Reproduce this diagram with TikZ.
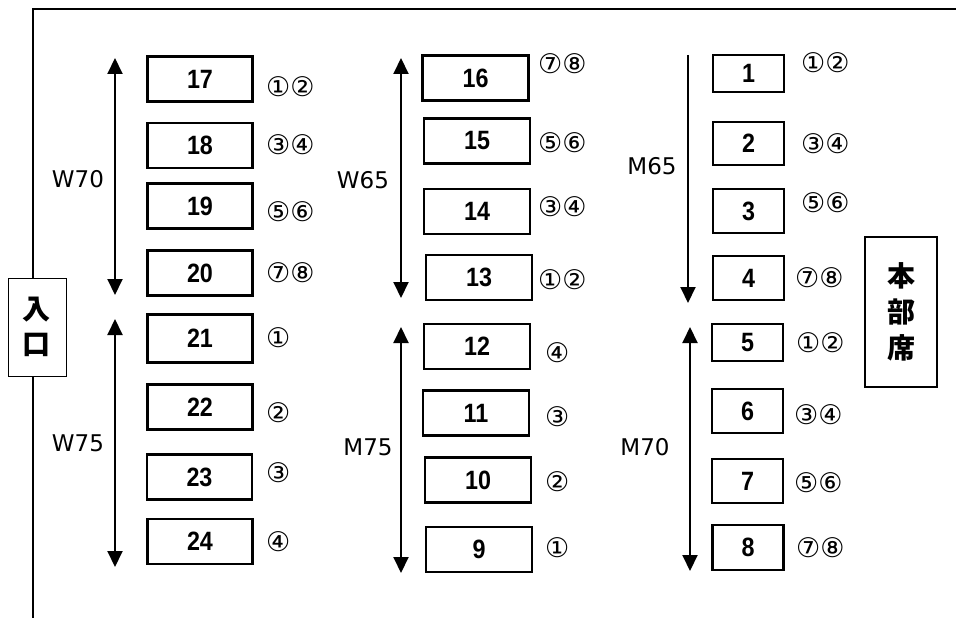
\documentclass[tikz,border=0pt]{standalone}
\usepackage{fontspec}
\setmainfont{Liberation Sans}
\newfontfamily\seatfont[FakeStretch=0.88]{Liberation Sans}
\newfontfamily\jpfont{Noto Sans CJK JP}
\newfontfamily\lblfont{DejaVu Sans}
\usetikzlibrary{arrows.meta, positioning}

\begin{document}
\begin{tikzpicture}[x=1pt, y=-1pt,
  seat/.style={draw, line width=2.2pt, inner sep=0pt, minimum height=45pt, font=\seatfont\bfseries\fontsize{26.5}{28}\selectfont},
  seatW/.style={seat, minimum width=105pt},
  seatM/.style={seat, minimum width=106pt},
  seatR/.style={seat, minimum width=71pt},
  pair/.style={anchor=west, inner sep=0pt, font=\lblfont\fontsize{27}{28}\selectfont},
  spanarrow/.style={line width=2pt, {Triangle[width=15pt,length=16pt]}-{Triangle[width=15pt,length=16pt]}},
  downarrow/.style={line width=2pt, -{Triangle[width=15pt,length=16pt]}},
  spanlbl/.style={inner sep=0pt, font=\lblfont\fontsize{23}{26}\selectfont},
  room/.style={draw, inner sep=0pt, align=center, font=\jpfont\bfseries\fontsize{28}{35}\selectfont}
]
  \useasboundingbox (0,0) rectangle (956,618);

  % walls and entrance
  \node[room, line width=0.8pt, minimum width=58pt, minimum height=98pt] (entrance) at (37,327) {入\\口};
  \node[room, line width=1.6pt, minimum width=72pt, minimum height=150pt, font=\jpfont\bfseries\fontsize{28}{36}\selectfont] (hq) at (901,312) {本\\部\\席};
  \coordinate (wallTL) at (33,9);
  \coordinate (wallTR) at (956,9);
  \coordinate (wallB) at (33,618);
  \draw[line width=1.6pt] (wallTR) -- (wallTL) -- (wallTL |- entrance.north);
  \draw[line width=1.6pt] (wallTL |- entrance.south) -- (wallB);

  % left column
  \node[seatW] (s17) at (200,79) {17};
  \node[seatW] (s18) at (200,145.5) {18};
  \node[seatW] (s19) at (200,206) {19};
  \node[seatW] (s20) at (200,273) {20};
  \node[seatW, minimum height=48pt] (s21) at (200,338.5) {21};
  \node[seatW] (s22) at (200,407) {22};
  \node[seatW] (s23) at (199.5,477) {23};
  \node[seatW] (s24) at (200,541.5) {24};
  \node[pair] (p17) at (266,87) {①②};
  \node[pair] (p18) at (266,145) {③④};
  \node[pair] (p19) at (266,212) {⑤⑥};
  \node[pair] (p20) at (266,273) {⑦⑧};
  \node[pair] (p21) at (266,338) {①};
  \node[pair] (p22) at (266,413) {②};
  \node[pair] (p23) at (266,473) {③};
  \node[pair] (p24) at (266,542) {④};
  \coordinate (w70top) at (115,58);
  \coordinate (w70bot) at (115,295);
  \coordinate (w75top) at (115,319);
  \coordinate (w75bot) at (115,567);
  \draw[spanarrow] (w70top) -- (w70bot);
  \draw[spanarrow] (w75top) -- (w75bot);
  \node[spanlbl] (w70) at (78,179) {W70};
  \node[spanlbl] (w75) at (78,443) {W75};

  % middle column
  \node[seatM] (s16) at (475.5,78) {16};
  \node[seatM] (s15) at (477,141) {15};
  \node[seatM] (s14) at (477,211.5) {14};
  \node[seatM] (s13) at (479,277.5) {13};
  \node[seatM] (s12) at (477,346.5) {12};
  \node[seatM] (s11) at (476,413) {11};
  \node[seatM] (s10) at (478,480) {10};
  \node[seatM] (s9) at (479,549.5) {9};
  \node[pair] (p16) at (538,64) {⑦⑧};
  \node[pair] (p15) at (538,143) {⑤⑥};
  \node[pair] (p14) at (538,207) {③④};
  \node[pair] (p13) at (538,280) {①②};
  \node[pair] (p12) at (545,353) {④};
  \node[pair] (p11) at (545,417) {③};
  \node[pair] (p10) at (545,482) {②};
  \node[pair] (p9) at (545,548) {①};
  \coordinate (w65top) at (401,58);
  \coordinate (w65bot) at (401,298);
  \coordinate (m75top) at (401,327);
  \coordinate (m75bot) at (401,573);
  \draw[spanarrow] (w65top) -- (w65bot);
  \draw[spanarrow] (m75top) -- (m75bot);
  \node[spanlbl] (w65) at (363,180) {W65};
  \node[spanlbl] (m75) at (368,447) {M75};

  % right column
  \node[seatR, minimum height=37pt] (s1) at (748.5,73.5) {1};
  \node[seatR, minimum height=43pt] (s2) at (748.5,143.5) {2};
  \node[seatR, minimum height=44pt] (s3) at (748.5,211) {3};
  \node[seatR, minimum height=44pt] (s4) at (748.5,278) {4};
  \node[seatR, minimum height=37pt] (s5) at (747.5,342.5) {5};
  \node[seatR, minimum height=44pt] (s6) at (747.5,411) {6};
  \node[seatR, minimum height=44pt] (s7) at (747.5,481) {7};
  \node[seatR] (s8) at (748,547.5) {8};
  \node[pair] (p1) at (801,63) {①②};
  \node[pair] (p2) at (801,144) {③④};
  \node[pair] (p3) at (801,203) {⑤⑥};
  \node[pair] (p4) at (795,278) {⑦⑧};
  \node[pair] (p5) at (796,343) {①②};
  \node[pair] (p6) at (794,415) {③④};
  \node[pair] (p7) at (794,483) {⑤⑥};
  \node[pair] (p8) at (796,548) {⑦⑧};
  \coordinate (m65top) at (688,55);
  \coordinate (m65bot) at (688,303);
  \coordinate (m70top) at (690,327);
  \coordinate (m70bot) at (690,571);
  \draw[downarrow] (m65top) -- (m65bot);
  \draw[spanarrow] (m70top) -- (m70bot);
  \node[spanlbl] (m65) at (652,166) {M65};
  \node[spanlbl] (m70) at (645,447) {M70};
\end{tikzpicture}
\end{document}
